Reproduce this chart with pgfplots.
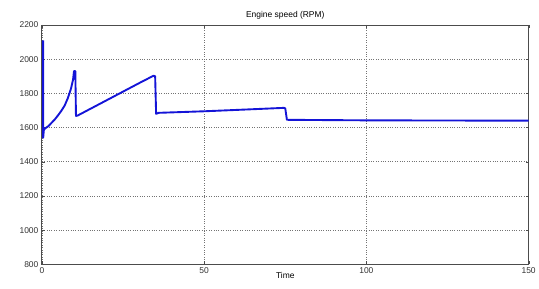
\documentclass[border=0pt]{standalone}
\usepackage{pgfplots}
\pgfplotsset{compat=1.18}
\usepackage{fontspec}
\setmainfont{Liberation Sans}
\definecolor{lineblue}{RGB}{20,20,215}
\begin{document}
\begin{tikzpicture}
\begin{axis}[
  scale only axis,
  width=488bp, height=240bp,
  xmin=0, xmax=150, ymin=800, ymax=2200,
  xtick={0,50,100,150}, ytick={800,1000,...,2200},
  grid=major,
  grid style={dotted, black!55, line width=0.5pt},
  tick align=inside,
  major tick length=3bp,
  axis line style={black!70, line width=0.8pt},
  tick style={black!70},
  ticklabel style={font=\fontsize{8.5}{9}\selectfont, text=black!80},
  /pgf/number format/assume math mode=true,
  /pgf/number format/1000 sep={},
  title={Engine speed (RPM)},
  title style={font=\fontsize{8.5}{9}\selectfont, yshift=-4bp},
  xlabel={Time},
  xlabel style={font=\fontsize{8.5}{9}\selectfont, yshift=8bp},
]
\addplot[lineblue, line width=1.9pt, line join=round] coordinates {
(0.4,2110) (0.4,1540) (0.6,1585) (1,1595) (2,1608) (3,1628) (4,1648) (5,1672)
(6,1698) (7,1728) (8,1772) (9,1830) (9.6,1880) (9.9,1930) (10.3,1930)
(10.5,1668) (11,1670) (20,1760) (30,1860) (34.4,1903) (34.9,1900)
(35.2,1680) (36,1686) (50,1695) (60,1703) (74.6,1715) (75,1712) (75.5,1646)
(76,1645) (100,1642) (150,1640)
};
\end{axis}
\path[use as bounding box] ([xshift=-42bp,yshift=-24bp]current axis.south west) rectangle ([xshift=9bp,yshift=25bp]current axis.north east);
\end{tikzpicture}
\end{document}
